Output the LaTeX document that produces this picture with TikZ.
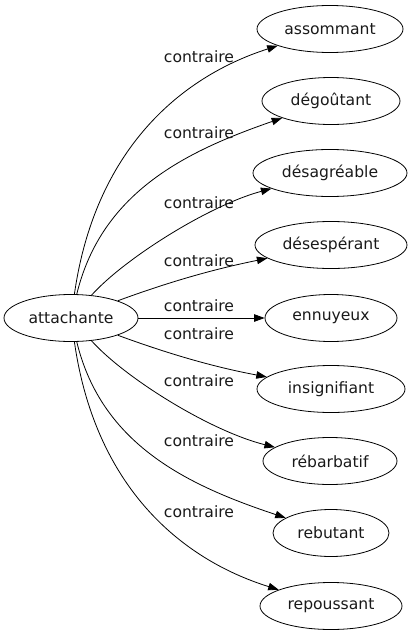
\documentclass[tikz,border=0pt]{standalone}
\usepackage{fontspec}
\setmainfont{DejaVu Sans}
\usetikzlibrary{shapes.geometric,arrows.meta}
\begin{document}
\begin{tikzpicture}[x=1pt,y=-1pt,
  every node/.style={font=\fontsize{15.6}{18}\selectfont, text=black!90},
  ell/.style={draw=black, ellipse, line width=0.8pt, inner sep=0pt, minimum height=47pt},
  lbl/.style={inner sep=0pt},
  edge/.style={draw, line width=0.8pt, -{Triangle[length=10.5pt,width=7.5pt]}}]
\useasboundingbox (0,0) rectangle (413,635);
\node[ell, minimum width=134pt] (a) at (71,318) {attachante};
\node[ell, minimum width=146pt] (t1) at (330,29) {assommant};
\node[ell, minimum width=138pt] (t2) at (331,101) {dégoûtant};
\node[ell, minimum width=154pt] (t3) at (330,173) {désagréable};
\node[ell, minimum width=152pt] (t4) at (331,245) {désespérant};
\node[ell, minimum width=132pt] (t5) at (331,318) {ennuyeux};
\node[ell, minimum width=148pt] (t6) at (331,389) {insignifiant};
\node[ell, minimum width=134pt] (t7) at (330,461) {rébarbatif};
\node[ell, minimum width=116pt] (t8) at (331,533) {rebutant};
\node[ell, minimum width=142pt] (t9) at (331,606) {repoussant};
\draw[edge] (a) .. controls (95,150) and (180,77) .. (t1);
\draw[edge] (a) .. controls (102,190) and (190,150) .. (t2);
\draw[edge] (a) .. controls (125,258) and (210,205) .. (t3);
\draw[edge] (a) .. controls (185,276) and (230,266) .. (t4);
\draw[edge] (a) -- (t5);
\draw[edge] (a) .. controls (185,360) and (230,370) .. (t6);
\draw[edge] (a) .. controls (125,378) and (210,431) .. (t7);
\draw[edge] (a) .. controls (102,446) and (190,486) .. (t8);
\draw[edge] (a) .. controls (95,486) and (180,559) .. (t9);
\node[lbl] (l1) at (199,57) {contraire};
\node[lbl] (l2) at (199,133) {contraire};
\node[lbl] (l3) at (199,202.5) {contraire};
\node[lbl] (l4) at (199,261) {contraire};
\node[lbl] (l5) at (199,306) {contraire};
\node[lbl] (l6) at (199,334) {contraire};
\node[lbl] (l7) at (199,381) {contraire};
\node[lbl] (l8) at (199,441) {contraire};
\node[lbl] (l9) at (199,512) {contraire};
\end{tikzpicture}
\end{document}
